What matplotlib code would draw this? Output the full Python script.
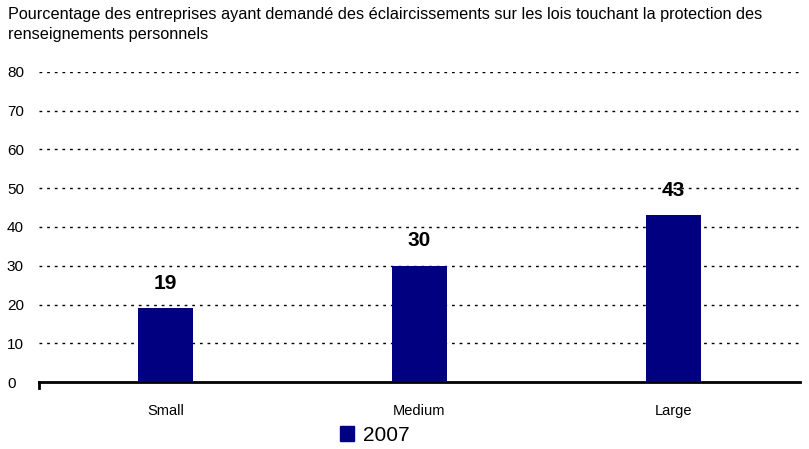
import matplotlib
matplotlib.use('Agg')
import matplotlib.pyplot as plt
from matplotlib.patches import Patch

# data
categories = ['Small', 'Medium', 'Large']
values_2007 = [19, 30, 43]
series_name = '2007'
yticks = [0, 10, 20, 30, 40, 50, 60, 70, 80]
title = ("Pourcentage des entreprises ayant demandé des éclaircissements sur les lois touchant la protection des\n"
         "renseignements personnels")

plt.rcParams['font.family'] = ['Liberation Sans', 'DejaVu Sans']

fig = plt.figure(figsize=(8.09, 4.49), dpi=100)
ax = fig.add_axes([0.048, 0.149, 0.941, 0.691])

x = list(range(len(categories)))
ax.bar(x, values_2007, width=0.217, color='#000080', zorder=3)

for xi, v in zip(x, values_2007):
    ax.text(xi, v + 4.0, str(v), ha='center', va='bottom',
            fontsize=15, fontweight='bold', color='black')

ax.set_xlim(-0.5, len(categories) - 0.5)
ax.set_ylim(0, 80)
ax.set_yticks(yticks)
for y in yticks[1:]:
    ax.axhline(y, color='black', lw=1, linestyle=(0, (2, 3.5)), zorder=1)

for s in ['top', 'right', 'left']:
    ax.spines[s].set_visible(False)
ax.spines['bottom'].set_linewidth(2)

ax.set_xticks(x)
ax.set_xticklabels(categories, fontsize=10.5)
ax.tick_params(axis='x', length=0, pad=16)
ax.tick_params(axis='y', length=0, labelsize=11, pad=23)
for lbl in ax.get_yticklabels():
    lbl.set_horizontalalignment('left')

# small tick at left end of the axis
ax.plot([-0.5, -0.5], [0, -1.5], color='black', lw=2, clip_on=False, zorder=4)

fig.text(0.01, 0.985, title, ha='left', va='top', fontsize=11.7, linespacing=1.45)

leg = fig.legend(handles=[Patch(color='#000080', label=series_name)],
                 loc='center', bbox_to_anchor=(0.463, 0.03), frameon=False,
                 fontsize=15, handlelength=0.7, handleheight=0.7, handletextpad=0.4)

plt.savefig('out.png', dpi=100)
